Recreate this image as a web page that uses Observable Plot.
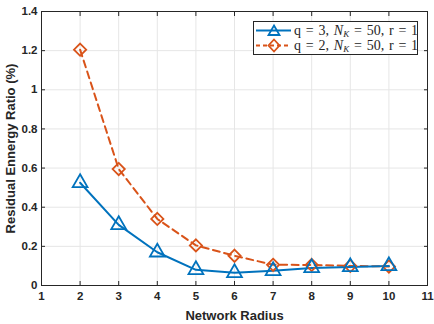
<!DOCTYPE html>
<html><head><meta charset="utf-8">
<script src="https://cdn.jsdelivr.net/npm/d3@7"></script>
<script src="https://cdn.jsdelivr.net/npm/@observablehq/plot@0.6"></script>
<style>
body{margin:0;background:#fff;}
#wrap{position:relative;width:434px;height:324px;}
#legend{position:absolute;left:253px;top:21px;width:163px;height:32px;border:1px solid #262626;background:#fff;font-family:"Liberation Serif","DejaVu Serif",serif;font-size:14px;color:#262626;word-spacing:1.3px;}
.row{position:absolute;left:0;height:15px;display:flex;align-items:center;}
.row svg{display:block;}
.row span{margin-left:1px;white-space:nowrap;}
sub{font-size:9px;vertical-align:-2px;}
</style>
</head><body>
<div id="wrap"></div>
<script>
const radius = [2, 3, 4, 5, 6, 7, 8, 9, 10];
const q3 = [0.525, 0.31, 0.17, 0.08, 0.065, 0.075, 0.09, 0.095, 0.10];
const q2 = [1.205, 0.595, 0.34, 0.205, 0.152, 0.106, 0.105, 0.10, 0.097];
const xTicks = [1, 2, 3, 4, 5, 6, 7, 8, 9, 10, 11];
const yTicks = [0, 0.2, 0.4, 0.6, 0.8, 1, 1.2, 1.4];
const seriesNames = ["q = 3, N_K = 50, r = 1", "q = 2, N_K = 50, r = 1"];
const blue = "#0072BD", orange = "#D95319";

const d3data = radius.map((r, i) => ({r, v: q3[i]}));
const d2data = radius.map((r, i) => ({r, v: q2[i]}));

const chart = Plot.plot({
  width: 434, height: 324,
  marginLeft: 41, marginRight: 7, marginTop: 11, marginBottom: 39,
  style: {fontFamily: "'Liberation Sans', Arial, sans-serif", fontWeight: "bold", fontSize: "11.5px", color: "#262626", background: "#fff"},
  x: {domain: [1, 11]},
  y: {domain: [0, 1.4]},
  marks: [
    Plot.gridX(xTicks, {stroke: "#e6e6e6", strokeOpacity: 1, strokeWidth: 1}),
    Plot.gridY(yTicks, {stroke: "#e6e6e6", strokeOpacity: 1, strokeWidth: 1}),
    Plot.axisX(xTicks, {anchor: "bottom", tickSize: -4, tickPadding: 10, tickFormat: d => String(d), label: "Network Radius", labelAnchor: "center", labelArrow: "none", labelOffset: 34}),
    Plot.axisX(xTicks, {anchor: "top", tickSize: -4, tickFormat: () => "", label: null}),
    Plot.axisY(yTicks, {anchor: "left", tickSize: -4, tickPadding: 8, tickFormat: d => String(d), label: "Residual Ennergy Ratio (%)", labelAnchor: "center", labelArrow: "none", labelOffset: 36}),
    Plot.axisY(yTicks, {anchor: "right", tickSize: -4, tickFormat: () => "", label: null}),
    Plot.frame({stroke: "#262626", strokeWidth: 1}),
    Plot.line(d2data, {x: "r", y: "v", stroke: orange, strokeWidth: 2, strokeDasharray: "7,4.5"}),
    Plot.line(d3data, {x: "r", y: "v", stroke: blue, strokeWidth: 2}),
    Plot.dot(d2data, {x: "r", y: "v", symbol: "diamond2", r: 5.5, stroke: orange, strokeWidth: 1.8, fill: "none"}),
    Plot.dot(d3data, {x: "r", y: "v", symbol: "triangle", r: 5.5, stroke: blue, strokeWidth: 1.8, fill: "none"})
  ]
});
const wrap = document.getElementById("wrap");
wrap.appendChild(chart);
d3.select(chart).selectAll("text").attr("fill", "#262626");
d3.select(chart).selectAll("[aria-label='x-axis label'] text, [aria-label='y-axis label'] text").style("font-size", "13px");

// legend
const leg = document.createElement("div");
leg.id = "legend";
function fmt(name) {
  const [pre, post] = name.split("N_K");
  return pre + '<i>N</i><sub><i>K</i></sub>' + post;
}
const sym = [
  `<polygon points="20,2.5 25.5,12 14.5,12" fill="none" stroke="${blue}" stroke-width="1.8"/>`,
  `<polygon points="20,1.5 25.5,7.5 20,13.5 14.5,7.5" fill="none" stroke="${orange}" stroke-width="1.8"/>`
];
const cols = [blue, orange];
const dash = ["", "4,3"];
seriesNames.forEach((n, i) => {
  const row = document.createElement("div");
  row.className = "row";
  row.style.top = (1 + i * 15) + "px";
  row.innerHTML = `<svg width="39" height="15"><line x1="2" x2="37" y1="7.5" y2="7.5" stroke="${cols[i]}" stroke-width="2" stroke-dasharray="${dash[i]}"/>${sym[i]}</svg><span>${fmt(n)}</span>`;
  leg.appendChild(row);
});
wrap.appendChild(leg);
</script>
</body></html>
